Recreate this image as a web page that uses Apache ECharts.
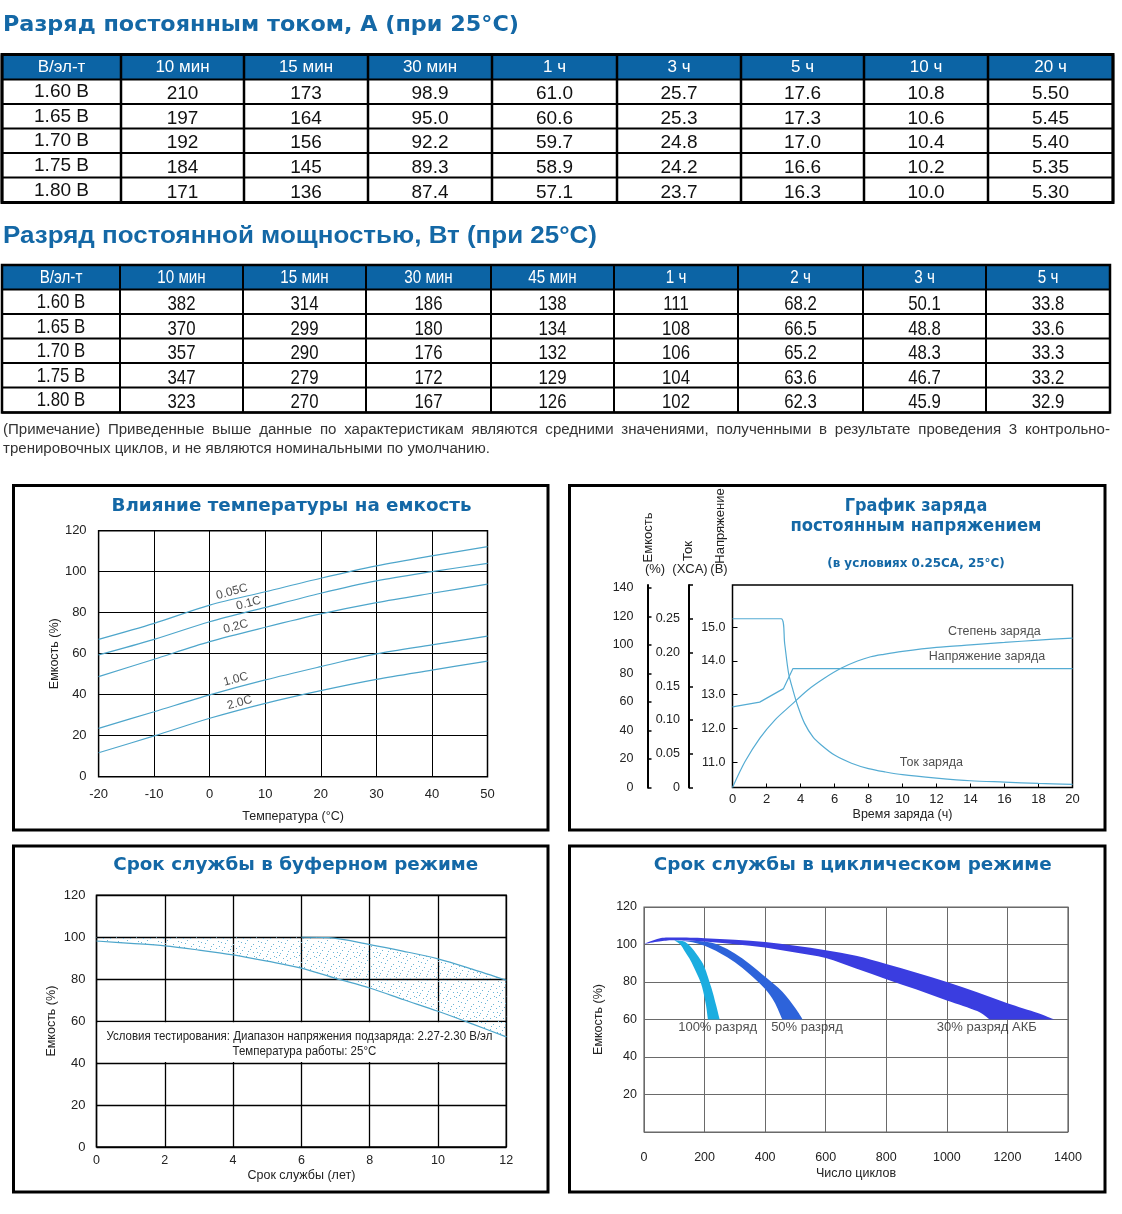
<!DOCTYPE html>
<html><head><meta charset="utf-8">
<script src="https://cdn.jsdelivr.net/npm/echarts@6/dist/echarts.min.js"></script>
<style>html,body{margin:0;padding:0;background:#fff}#c{width:1122px;height:1214px}</style>
</head><body><div id="c"></div>
<script>
// ================= DATA =================
const title1 = 'Разряд постоянным током, А (при 25°C)';
const title2 = 'Разряд постоянной мощностью, Вт (при 25°C)';
const currentHeaders = ['В/эл-т','10 мин','15 мин','30 мин','1 ч','3 ч','5 ч','10 ч','20 ч'];
const cellVoltages = ['1.60 В','1.65 В','1.70 В','1.75 В','1.80 В'];
const currentDecimals = [0,0,1,1,1,1,1,2];
const current160 = [210,173,98.9,61.0,25.7,17.6,10.8,5.50];
const current165 = [197,164,95.0,60.6,25.3,17.3,10.6,5.45];
const current170 = [192,156,92.2,59.7,24.8,17.0,10.4,5.40];
const current175 = [184,145,89.3,58.9,24.2,16.6,10.2,5.35];
const current180 = [171,136,87.4,57.1,23.7,16.3,10.0,5.30];

const powerHeaders = ['В/эл-т','10 мин','15 мин','30 мин','45 мин','1 ч','2 ч','3 ч','5 ч'];
const powerDecimals = [0,0,0,0,0,1,1,1];
const power160 = [382,314,186,138,111,68.2,50.1,33.8];
const power165 = [370,299,180,134,108,66.5,48.8,33.6];
const power170 = [357,290,176,132,106,65.2,48.3,33.3];
const power175 = [347,279,172,129,104,63.6,46.7,33.2];
const power180 = [323,270,167,126,102,62.3,45.9,32.9];

const noteLine1 = '(Примечание) Приведенные выше данные по характеристикам являются средними значениями, полученными в результате проведения 3 контрольно-';
const noteLine2 = 'тренировочных циклов, и не являются номинальными по умолчанию.';

// Temperature vs capacity
const tempC = [-20,-10,0,10,20,30,40,50];
const cap005C = [67,74.8,83.7,90.2,96.8,102.8,107.7,112.2];
const cap01C = [59.4,67,75.6,82.6,89.5,95.5,100,104.1];
const cap02C = [48.8,57.3,65.9,72.9,79.4,84.9,89.5,93.9];
const cap10C = [23.6,31.7,39.9,47.2,53.7,59.9,64.3,68.6];
const cap20C = [11.7,19.9,28.5,35.8,42,47.5,52,56.4];
const tempCurveNames = ['0.05C','0.1C','0.2C','1.0C','2.0C'];
const tempLabelT = [4.0,7.0,4.7,4.7,5.4];
const tempLabelCap = [90.2,84.6,73.2,47.5,36.1];

// Constant voltage charge
const voltHours = [0,1.6,3.0,3.3,3.55,20];
const voltValues = [12.64,12.78,13.18,13.5,13.77,13.77];
const currHours = [0,2.87,3.07,3.3,3.56,3.85,4.24,4.73,5.22,6,7,8,9,10,12,14,16,18,20];
const currValues = [0.25,0.25,0.213,0.169,0.144,0.12,0.095,0.075,0.063,0.048,0.036,0.028,0.023,0.019,0.014,0.010,0.008,0.006,0.0045];
const socHours = [0,0.73,1.6,2.49,3.46,4.43,5.4,6.38,7.35,8.13,8.9,10,12,14,16,18,20];
const socValues = [0,18,34.5,47.3,57.9,68.4,76.6,83.6,88.7,91.7,93.4,95.4,98.2,100,101.7,103.4,104.8];
const capTicks = [0,20,40,60,80,100,120,140];
const currTicks = [0,0.05,0.1,0.15,0.2,0.25];
const voltTicks = [11,12,13,14,15];

// Float service life
const floatYearsLower = [0,1,2,3,4,5,6,7,8,9,10,11,12];
const floatLower = [98.2,97.1,95.9,93.9,91.6,88.6,85.3,80.4,75.8,70.2,64.7,58.7,52.5];
const floatYearsUpper = [0,2,4,6,6.8,8,9,10,11,12];
const floatUpper = [100,100,100,100,99.8,96.5,93.3,89.7,84.8,79.5];
const floatNote1 = 'Условия тестирования: Диапазон напряжения подзаряда: 2.27-2.30 В/эл';
const floatNote2 = 'Температура работы: 25°C';

// Cycle service life (band edges: [cycles, capacity %])
const outer30 = [[0,100.3],[50,103.2],[100,103.7],[200,103.4],[300,102.5],[400,101.3],[500,99.3],[600,97.0],[700,94],[800,89.6],[900,85],[1000,80],[1100,74.5],[1200,68.7],[1300,63.5],[1355,60]];
const inner30 = [[0,100.3],[50,101.6],[100,102.3],[200,101.6],[300,100.2],[400,98.4],[500,95.7],[600,92.8],[700,87.2],[800,81.5],[900,76],[1000,70.2],[1100,64.5],[1141,60]];
const outer50 = [[120,102.2],[200,101.6],[250,99.5],[300,95.2],[350,89.5],[400,82.8],[457,74.8],[500,66],[524,60]];
const inner50 = [[120,102.2],[160,101.2],[200,99.3],[250,95.5],[300,90.5],[350,84],[400,76.3],[430,69.5],[457,60]];
const outer100 = [[100,102.3],[130,101.8],[145,100.3],[160,97.8],[181,93.2],[200,87.8],[222,77.2],[237,68.3],[250,60]];
const inner100 = [[100,102.3],[120,100],[134,96.6],[150,92.5],[165,87.8],[180,82.5],[192,77.2],[204,68.3],[211,60]];
const cycleLabelNames = ['100% разряд','50% разряд','30% разряд АКБ'];
const cycleLabelX = [243,538,1132];
const cycleLabelY = [55.6,55.6,55.6];

// ================= RENDER =================
const FONT = 'Liberation Sans';
const BLUE = '#1468a6';
const chart = echarts.init(document.getElementById('c'), null, {renderer:'canvas', width:1122, height:1214});
const mctx = document.createElement('canvas').getContext('2d');
function measure(text, size, family, weight){ mctx.font = (weight||'normal')+' '+size+'px "'+family+'"'; return mctx.measureText(text).width; }
function T(text, x, y, o){
  o = o || {};
  const size = o.size||13, family = o.family||FONT, weight = o.weight||'normal';
  let sx = o.sx || 1;
  if (o.fit) sx = o.fit / measure(text, size, family, weight);
  return {type:'text', x:x, y:y, scaleX:sx, rotation:o.rot||0, z:10, silent:true,
    style:{text:text, x:0, y:0, fontSize:size, fontFamily:family, fontWeight:weight,
      fill:o.color||'#222', align:o.align||'center', verticalAlign:o.va||'middle'}};
}
function L(x1,y1,x2,y2,w,c){ return {type:'line', z:10, silent:true, shape:{x1,y1,x2,y2}, style:{stroke:c||'#000', lineWidth:w}}; }

function buildTable(colX, rowY, headers, labels, rows, decimals, o){
  const els = [];
  const W = colX[colX.length-1]-colX[0];
  els.push({type:'rect', z:9, silent:true, shape:{x:colX[0], y:rowY[0], width:W, height:rowY[1]-rowY[0]}, style:{fill:'#0c64a5'}});
  headers.forEach((h,i)=>els.push(T(h,(colX[i]+colX[i+1])/2,(rowY[0]+rowY[1])/2+o.hdy,{size:o.hsize,color:'#fff',sx:o.sx})));
  rows.forEach((r,ri)=>{
    const yc = (rowY[ri+1]+rowY[ri+2])/2;
    els.push(T(labels[ri],(colX[0]+colX[1])/2,yc+o.ldy,{size:o.dsize,color:'#111',sx:o.sx}));
    r.forEach((v,ci)=>els.push(T(v.toFixed(decimals[ci]),(colX[ci+1]+colX[ci+2])/2,yc+o.ddy,{size:o.dsize,color:'#111',sx:o.sx})));
  });
  colX.forEach(x=>els.push(L(x,rowY[0],x,rowY[rowY.length-1],o.vw)));
  rowY.forEach(y=>els.push(L(colX[0],y,colX[colX.length-1],y,o.hw)));
  els.push({type:'rect', z:11, silent:true, shape:{x:colX[0], y:rowY[0], width:W, height:rowY[rowY.length-1]-rowY[0]}, style:{fill:null, stroke:'#000', lineWidth:o.outer}});
  return els;
}

const lbl = (size, extra) => Object.assign({color:'#222', fontFamily:FONT, fontSize:size}, extra||{});
const nameStyle = lbl(12.5);

// stipple pattern
const dotCanvas = document.createElement('canvas'); dotCanvas.width = 20; dotCanvas.height = 20;
(function(){ const dc = dotCanvas.getContext('2d'); dc.fillStyle = '#6cb5d6';
  [[1,2],[7,0],[13,4],[18,1],[4,7],[10,9],[16,8],[0,13],[7,14],[13,12],[19,15],[3,18],[10,18],[16,17],
   [5,3],[11,6],[17,12],[2,10],[8,11],[14,16],[19,6],[6,16]].forEach(p=>dc.fillRect(p[0],p[1],1,1)); })();

// smooth edge through pixel points (Catmull-Rom -> cubic bezier)
function crSegs(p){
  let d = '';
  for (let i=0;i<p.length-1;i++){
    const p0 = p[i-1]||p[i], p1 = p[i], p2 = p[i+1], p3 = p[i+2]||p[i+1], t = 1/6;
    d += ' C'+(p1[0]+(p2[0]-p0[0])*t)+','+(p1[1]+(p2[1]-p0[1])*t)+' '+(p2[0]-(p3[0]-p1[0])*t)+','+(p2[1]-(p3[1]-p1[1])*t)+' '+p2[0]+','+p2[1];
  }
  return d;
}
function bandSeries(xi, yi, outer, inner, fill, z){
  const pts = outer.concat(inner.slice().reverse());
  return {type:'custom', xAxisIndex:xi, yAxisIndex:yi, z:z, silent:true, data:pts,
    renderItem:function(params, api){
      if (params.dataIndex !== 0) return null;
      const po = outer.map(p=>api.coord(p));
      const pi = inner.slice().reverse().map(p=>api.coord(p));
      const d = 'M'+po[0][0]+','+po[0][1]+crSegs(po)+' L'+pi[0][0]+','+pi[0][1]+crSegs(pi)+' Z';
      return {type:'path', shape:{pathData:d}, style:{fill:fill, stroke:null}};
    }};
}
function lineSeries(xi, yi, xs, ys, color, smooth){
  return {type:'line', xAxisIndex:xi, yAxisIndex:yi, symbol:'none', silent:true, smooth:smooth,
    lineStyle:{color:color, width:1.2}, data:xs.map((x,i)=>[x,ys[i]])};
}
function labelSeries(xi, yi, xs, ys, names, extra){
  return {type:'scatter', xAxisIndex:xi, yAxisIndex:yi, symbolSize:1, itemStyle:{color:'rgba(0,0,0,0)'}, silent:true, z:5,
    data:names.map((n,i)=>({name:n, value:[xs[i], ys[i]]})),
    label:Object.assign({show:true, position:'inside', formatter:'{b}', color:'#222', fontFamily:FONT, fontSize:12.5}, extra||{})};
}
const LC = '#4ea6cb';

const option = {
  backgroundColor:'#fff',
  animation:false,
  grid:[
    {left:98.6, top:530.7, width:388.9, height:246, show:true, borderColor:'#000', borderWidth:1.5, outerBoundsMode:'none'},
    {left:732.5, top:585, width:340, height:202.5, show:true, borderColor:'#000', borderWidth:1.5, outerBoundsMode:'none'},
    {left:96.5, top:895.3, width:409.8, height:251.7, show:true, borderColor:'#000', borderWidth:1.5, outerBoundsMode:'none'},
    {left:644, top:907, width:424, height:225, show:true, borderColor:'#666', borderWidth:1.2, outerBoundsMode:'none'}
  ],
  xAxis:[
    {gridIndex:0, type:'value', min:-20, max:50, interval:10, axisLine:{show:false}, axisTick:{show:false},
     splitLine:{show:true, lineStyle:{color:'#000', width:1}}, axisLabel:lbl(13,{margin:11, showMinLabel:true, showMaxLabel:true}),
     name:'Температура (°C)', nameLocation:'middle', nameGap:33, nameTextStyle:nameStyle},
    {gridIndex:1, type:'value', min:0, max:20, interval:2, axisLine:{show:false},
     axisTick:{show:true, inside:true, length:4, lineStyle:{color:'#000', width:1}}, splitLine:{show:false},
     axisLabel:lbl(13,{margin:5, showMinLabel:true, showMaxLabel:true}),
     name:'Время заряда (ч)', nameLocation:'middle', nameGap:21, nameTextStyle:nameStyle},
    {gridIndex:2, type:'value', min:0, max:12, interval:2, axisLine:{show:false}, axisTick:{show:false},
     splitLine:{show:true, lineStyle:{color:'#000', width:1.3}}, axisLabel:lbl(12.5,{margin:7, showMinLabel:true, showMaxLabel:true}),
     name:'Срок службы (лет)', nameLocation:'middle', nameGap:22, nameTextStyle:nameStyle},
    {gridIndex:3, type:'value', min:0, max:1400, interval:200, axisLine:{show:false}, axisTick:{show:false},
     splitLine:{show:true, lineStyle:{color:'#6a6a6a', width:1}},
     axisLabel:lbl(12.5,{margin:19, showMinLabel:true, showMaxLabel:true, formatter:v=>String(v)}),
     name:'Число циклов', nameLocation:'middle', nameGap:35, nameTextStyle:nameStyle}
  ],
  yAxis:[
    {gridIndex:0, type:'value', min:0, max:120, interval:20, axisLine:{show:false}, axisTick:{show:false},
     splitLine:{show:true, lineStyle:{color:'#000', width:1}}, axisLabel:lbl(13,{margin:12}),
     name:'Емкость (%)', nameLocation:'middle', nameGap:38, nameRotate:90, nameTextStyle:nameStyle, nameMoveOverlap:false},
    {gridIndex:1, type:'value', position:'left', offset:0, min:10.25, max:16.25, axisLine:{show:false},
     axisTick:{show:true, inside:true, length:5, customValues:voltTicks, lineStyle:{color:'#000'}}, splitLine:{show:false},
     axisLabel:lbl(12.5,{margin:7, customValues:voltTicks, formatter:v=>v.toFixed(1)})},
    {gridIndex:1, type:'value', position:'left', offset:43.5, min:0, max:0.3, axisLine:{show:true, lineStyle:{color:'#000', width:2}},
     axisTick:{show:true, inside:true, length:4, customValues:[0,0.05,0.1,0.15,0.2,0.25,0.3], lineStyle:{color:'#000', width:1.5}}, splitLine:{show:false},
     axisLabel:lbl(12.5,{margin:9, customValues:currTicks, formatter:v=>v===0?'0':v.toFixed(2)})},
    {gridIndex:1, type:'value', position:'left', offset:85, min:0, max:142, axisLine:{show:true, lineStyle:{color:'#000', width:2}},
     axisTick:{show:true, inside:true, length:4, customValues:capTicks, lineStyle:{color:'#000', width:1.5}}, splitLine:{show:false},
     axisLabel:lbl(12.5,{margin:14, customValues:capTicks})},
    {gridIndex:2, type:'value', min:0, max:120, interval:20, axisLine:{show:false}, axisTick:{show:false},
     splitLine:{show:true, lineStyle:{color:'#000', width:1.3}}, axisLabel:lbl(13,{margin:11}),
     name:'Емкость (%)', nameLocation:'middle', nameGap:38, nameRotate:90, nameTextStyle:nameStyle, nameMoveOverlap:false},
    {gridIndex:3, type:'value', min:0, max:120, interval:20, axisLine:{show:false}, axisTick:{show:false},
     splitLine:{show:true, lineStyle:{color:'#6a6a6a', width:1}}, axisLabel:lbl(12.5,{margin:7, formatter:v=>v===0?'':String(v)}),
     name:'Емкость (%)', nameLocation:'middle', nameGap:39, nameRotate:90, nameTextStyle:nameStyle, nameMoveOverlap:false}
  ],
  series:[
    // Panel 1
    lineSeries(0,0,tempC,cap005C,LC,0.3),
    lineSeries(0,0,tempC,cap01C,LC,0.3),
    lineSeries(0,0,tempC,cap02C,LC,0.3),
    lineSeries(0,0,tempC,cap10C,LC,0.3),
    lineSeries(0,0,tempC,cap20C,LC,0.3),
    labelSeries(0,0,tempLabelT,tempLabelCap,tempCurveNames,{rotate:15, fontSize:12}),
    // Panel 2
    lineSeries(1,1,voltHours,voltValues,'#55acd3',false),
    lineSeries(1,2,currHours,currValues,'#55acd3',0.3),
    lineSeries(1,3,socHours,socValues,'#55acd3',0.3),
    labelSeries(1,3,[15.4],[109.7],['Степень заряда']),
    labelSeries(1,1,[14.97],[14.12],['Напряжение заряда']),
    labelSeries(1,2,[11.7],[0.0377],['Ток заряда']),
    // Panel 3
    {type:'line', xAxisIndex:2, yAxisIndex:4, symbol:'none', silent:true, z:1, lineStyle:{opacity:0}, data:[[0,50]],
     markArea:{silent:true, itemStyle:{color:'#fff'}, label:{show:false},
       data:[[{coord:[0.035,40.5]},{coord:[11.965,59.5]}]]}},
    bandSeries(2,4,floatYearsUpper.map((x,i)=>[x,floatUpper[i]]), floatYearsLower.map((x,i)=>[x,floatLower[i]]), {image:dotCanvas, repeat:'repeat'}, 2),
    lineSeries(2,4,floatYearsLower,floatLower,LC,0.3),
    lineSeries(2,4,floatYearsUpper.filter(x=>x>=6),floatUpper.filter((v,i)=>floatYearsUpper[i]>=6),LC,0.3),
    // Panel 4
    bandSeries(3,5,outer100,inner100,'#1bade0',2),
    bandSeries(3,5,outer50,inner50,'#2d63da',3),
    bandSeries(3,5,outer30,inner30,'#3a3de0',4),
    labelSeries(3,5,cycleLabelX,cycleLabelY,cycleLabelNames,{fontSize:13})
  ]
};
chart.setOption(option);

// ---------- graphic (titles, tables, frames, notes) ----------
const g = [];
g.push(T(title1, 3, 25, {size:22, family:'DejaVu Sans', weight:'bold', color:BLUE, align:'left', fit:516}));
g.push(T(title2, 3, 237, {size:23, weight:'bold', color:BLUE, align:'left', fit:594}));
g.push(...buildTable([2,121,244,368,492,617,741,864,988,1113],[54.5,79.5,104,128.5,153,177.5,202.5],
  currentHeaders, cellVoltages, [current160,current165,current170,current175,current180], currentDecimals,
  {hsize:17, dsize:19, sx:1, hdy:0, ldy:0.5, ddy:2.5, vw:2.5, hw:2, outer:3}));
g.push(...buildTable([2,120,243,366,491,614,738,863,986,1110],[265,289.5,314,338.5,363,387.5,412.5],
  powerHeaders, cellVoltages, [power160,power165,power170,power175,power180], powerDecimals,
  {hsize:19, dsize:21, sx:0.8, hdy:1, ldy:0.5, ddy:2.5, vw:2, hw:2, outer:2.5}));

// note (line 1 justified)
(function(){
  const size = 14;
  const sx = 487 / measure(noteLine2, size, FONT);
  g.push(T(noteLine2, 3, 449, {size:size, sx:sx, align:'left', color:'#333'}));
  const words = noteLine1.split(' ');
  const ws = words.map(w=>measure(w, size, FONT)*sx);
  const total = ws.reduce((a,b)=>a+b,0);
  const gap = (1110-3-total)/(words.length-1);
  let x = 3;
  words.forEach((w,i)=>{ g.push(T(w, x, 430, {size:size, sx:sx, align:'left', color:'#333'})); x += ws[i]+gap; });
})();

// panel frames
[[13.5,485.5,534.5,344.5],[569.5,485.5,535.5,344.5],[13.5,846,534.5,346],[569.5,846,535.5,346]].forEach(r=>
  g.push({type:'rect', z:10, silent:true, shape:{x:r[0],y:r[1],width:r[2],height:r[3]}, style:{fill:null, stroke:'#000', lineWidth:3}}));

// panel titles
const pt = {size:18, family:'DejaVu Sans', weight:'bold', color:BLUE};
g.push(T('Влияние температуры на емкость', 291.5, 506, Object.assign({fit:360}, pt)));
g.push(T('График заряда', 916, 506, Object.assign({fit:142.5}, pt)));
g.push(T('постоянным напряжением', 916, 526, Object.assign({fit:251}, pt)));
g.push(T('(в условиях 0.25CA, 25°C)', 916, 564, {size:12, family:'DejaVu Sans', weight:'bold', color:BLUE, fit:177.6}));
g.push(T('Срок службы в буферном режиме', 295.7, 865.7, Object.assign({fit:365}, pt)));
g.push(T('Срок службы в циклическом режиме', 852.8, 865.7, Object.assign({fit:398}, pt)));

// panel 2 axis headings
g.push(T('Емкость', 648, 537.5, {size:13, rot:Math.PI/2}));
g.push(T('(%)', 655, 569.5, {size:13}));
g.push(T('Ток', 688, 551, {size:13, rot:Math.PI/2}));
g.push(T('(XCA)', 690, 569.5, {size:13}));
g.push(T('Напряжение', 720, 526, {size:13, rot:Math.PI/2}));
g.push(T('(В)', 719, 569.5, {size:13}));

// panel 3 box text
(function(){
  const c = chart.convertToPixel({gridIndex:2}, [6,50]);
  const sx = 386 / measure(floatNote1, 13, FONT);
  g.push(T(floatNote1, c[0]-2, c[1]-6, {size:13, sx:sx, color:'#222'}));
  g.push(T(floatNote2, c[0]+3, c[1]+9, {size:13, sx:sx, color:'#222'}));
})();

chart.setOption({graphic:{elements:g}});
</script>
</body></html>
